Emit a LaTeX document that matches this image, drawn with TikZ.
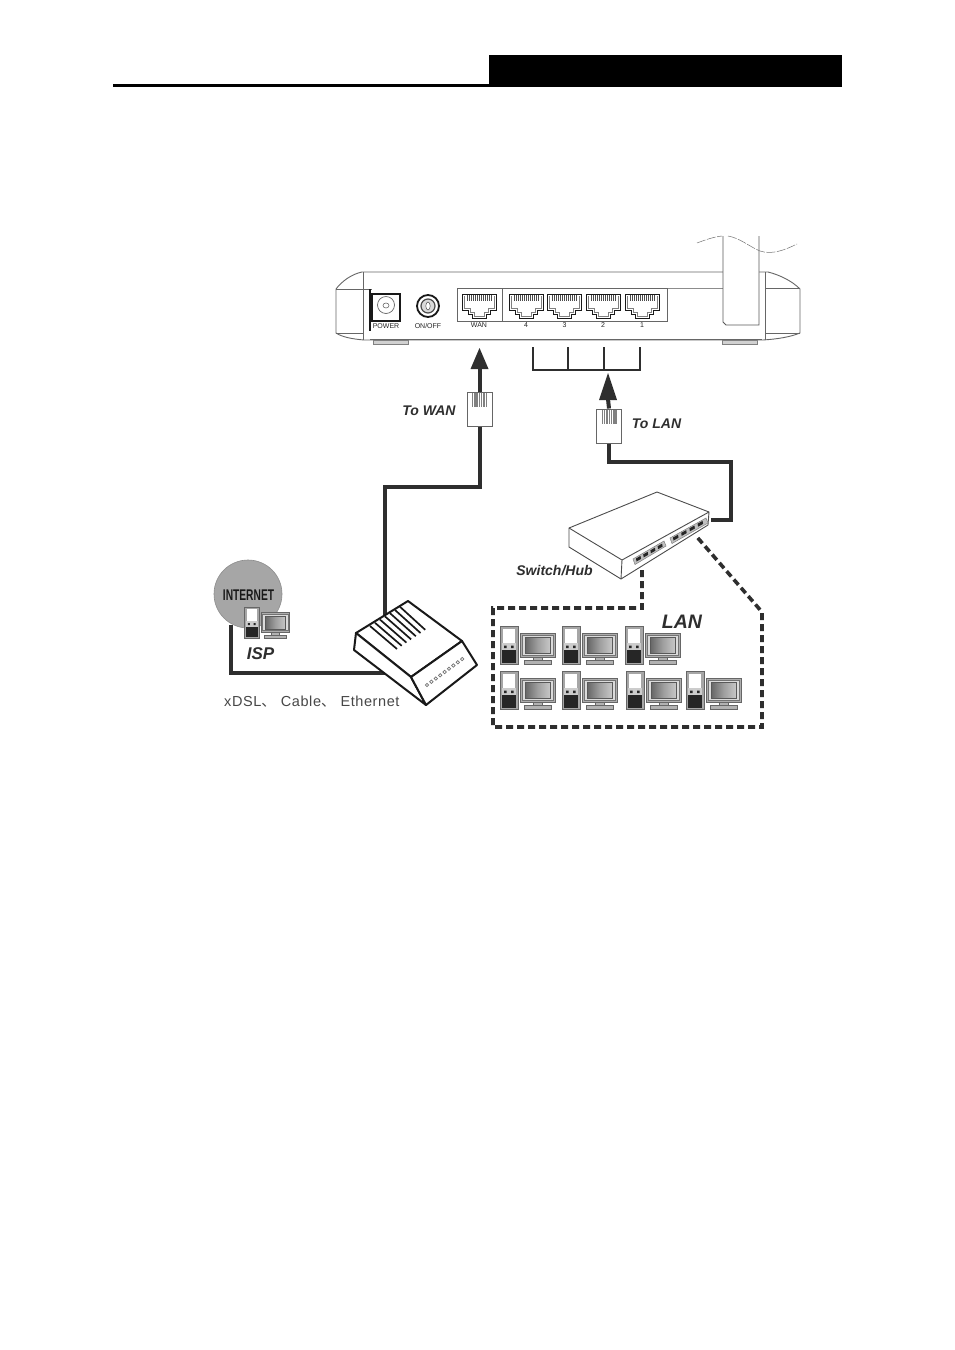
\documentclass[tikz,border=0pt]{standalone}
\usepackage{fontspec}
\setmainfont{Liberation Sans}
\newfontfamily\cjkf{Noto Sans CJK SC}
\newfontfamily\spacedf[LetterSpace=4]{Liberation Sans}
\usetikzlibrary{arrows.meta}
\definecolor{inkc}{gray}{0.18}
\tikzset{
  x=1pt,y=-1pt,
  cable/.style={line width=4pt,inkc,line join=miter},
  dashlan/.style={line width=3.6pt,inkc,dash pattern=on 7pt off 4pt},
  arrowhd/.style={fill=inkc,draw=none},
  plugbox/.style={draw=black!60,line width=1pt,fill=white,minimum width=25pt,minimum height=34pt,inner sep=0pt},
  lbl/.style={font=\bfseries\itshape\fontsize{14}{14}\selectfont,text=inkc,inner sep=0pt},
  ptxt/.style={font=\fontsize{7}{7}\selectfont,text=black!85,inner sep=0pt},
}
% computer: #1,#2 top-left; #3 scale
\newcommand{\pcunit}[3]{%
\begin{scope}[shift={(#1,#2)},scale=#3]
  \draw[black!60,line width=.8pt,fill=black!35] (0,0) rectangle (18,38);
  \fill[white] (3,3) rectangle (15,17);
  \fill[black!20] (2,17) rectangle (16,24);
  \fill[black!85] (4,19.5) rectangle (6.5,22) (11,19.5) rectangle (13.5,22);
  \fill[black!85] (2,24) rectangle (16,37);
  \draw[black!60,line width=.8pt,fill=black!32] (20,7) rectangle (55,31);
  \draw[black!55,line width=.6pt,fill=black!14] (22,9) rectangle (53,29);
  \shade[left color=black!60,right color=black!22,middle color=black!38,draw=black!65,line width=.6pt] (25,11) rectangle (50,27);
  \draw[black!60,line width=.7pt,fill=black!30] (33,31) rectangle (42,34);
  \draw[black!60,line width=.7pt,fill=black!30] (24,34) rectangle (51,38);
\end{scope}}
% RJ45 port centred at #1
\newcommand{\rjport}[1]{%
\begin{scope}[shift={(#1,0)}]
  \draw[black!90,line width=1pt] (-17,294) -- (17,294) -- (17,310) -- (11,310) -- (11,314) -- (7,314) -- (7,318) -- (-7,318) -- (-7,314) -- (-11,314) -- (-11,310) -- (-17,310) -- cycle;
  \draw[black!50,line width=.6pt] (-15,296) -- (-15,308) -- (-9,308) -- (-9,312) -- (-5,312) -- (-5,316) -- (5,316) -- (5,312) -- (9,312) -- (9,308) -- (15,308) -- (15,296);
  \foreach \k in {-12,-10,...,12} \draw[black!70,line width=.9pt] (\k,295) -- (\k,301);
\end{scope}}
\begin{document}
\begin{tikzpicture}
\useasboundingbox[fill=white] (0,0) rectangle (954,1350);
% header
\fill[black] (489,55) rectangle (842,87);
\fill[black] (113,84) rectangle (489,87);

% ---------- router
\draw[black!60,line width=.9pt,fill=white] (336,289) .. controls (342,281) and (352,274) .. (362,272) -- (768,272) .. controls (780,275) and (792,281) .. (800,289) -- (800,333) .. controls (790,337) and (778,339) .. (763,340) -- (364,340) .. controls (352,339) and (342,337) .. (336,333) -- cycle;
\draw[black!60,line width=.8pt] (363,272) -- (363,340) (765,272) -- (765,340) (336,289) -- (372,289) (336,333) -- (363,333) (765,333) -- (800,333) (765,288) -- (800,288);
\draw[black!45,line width=.7pt] (667,288) -- (723,288);
\draw[black!60,line width=.7pt] (370,339) -- (762,339);
\draw[black!90,line width=1.2pt] (370,289) -- (370,331);
% feet
\draw[black!50,line width=.6pt,fill=black!18] (373,340) rectangle (408,344);
\draw[black!50,line width=.6pt,fill=black!18] (722,340) rectangle (757,344);
% power
\draw[black!90,line width=1.2pt] (372,294) rectangle (400,321);
\draw[black!60,line width=.7pt] (386,305) circle (8.5);
\draw[black!60,line width=.6pt] (386,305.5) ellipse (3 and 2.5);
\node[ptxt] (powlbl) at (386,326) {POWER};
% on/off
\draw[black!90,line width=1.8pt] (428,306) circle (11);
\draw[black!70,line width=1.2pt,fill=black!15] (428,306) circle (7);
\fill[white] (428,306) ellipse (2.2 and 4);
\draw[black!70,line width=.5pt] (428,306) ellipse (2.2 and 4);
\node[ptxt] (onofflbl) at (428,326) {ON/OFF};
% panels
\draw[black!60,line width=.8pt] (457,288) rectangle (502,321);
\draw[black!60,line width=.8pt] (502,288) -- (667,288) -- (667,321) -- (502,321);
\rjport{479}\rjport{526}\rjport{564.5}\rjport{603}\rjport{642}
\node[ptxt] (wanlbl) at (479,325.5) {WAN};
\node[ptxt] (p4) at (526,325.5) {4};
\node[ptxt] (p3) at (564.5,325.5) {3};
\node[ptxt] (p2) at (603,325.5) {2};
\node[ptxt] (p1) at (642,325.5) {1};
% antenna
\draw[black!65,line width=.9pt,fill=white] (723,235) -- (723,322) -- (726,325) -- (759,325) -- (759,235);
\fill[white] (722,232) rectangle (760,236);
\draw[black!55,line width=.5pt,dash pattern=on 9pt off 1.5pt] (697,243) .. controls (705,240) and (713,237) .. (722,236);
\draw[black!55,line width=.5pt,dash pattern=on 9pt off 1.5pt] (728,236) .. controls (740,238) and (750,247) .. (760,251) .. controls (772,255) and (785,250) .. (797,244);

% ---------- bracket
\coordinate (b1) at (533,347); \coordinate (b2) at (568,347);
\coordinate (b3) at (604,347); \coordinate (b4) at (640,347);
\coordinate (bm) at (608,370);
\draw[inkc,line width=2.2pt,line join=miter] (b1) |- (b4 |- bm) -- (b4);
\draw[inkc,line width=2.2pt] (b2) -- (b2 |- bm) (b3) -- (b3 |- bm);

% ---------- WAN cable
\node[plugbox] (wanplug) at (479.5,409) {};
\coordinate (wantip) at (479.5,348);
\coordinate (wanbase) at (479.5,369);
\coordinate (m1) at (385,487);
\node[inner sep=0,minimum size=0] (modemtop) at (385,616) {};
\draw[cable] (wanplug.south) |- (m1) -- (modemtop);
\draw[cable] (wanplug.north) -- (wanbase);
\fill[arrowhd] (wantip) -- (488.5,369) -- (470.5,369) -- cycle;
\foreach \k in {-7,-4.7,...,7.1} \draw[black!50,line width=1.4pt] (479.5+\k,393) -- (479.5+\k,407);

% ---------- LAN cable
\node[plugbox] (lanplug) at (609,426) {};
\coordinate (lantip) at (608,373);
\coordinate (lanbase) at (608,399);
\coordinate (s1) at (731,462);
\coordinate (s2) at (711,520);
\draw[cable] (lanplug.south) |- (s1) |- (s2);
\draw[cable] (lanplug.north) -- (lanbase);
\fill[arrowhd] (lantip) -- (617,400) -- (599,400) -- cycle;
\foreach \k in {-7,-4.7,...,7.1} \draw[black!50,line width=1.4pt] (609.3+\k,410) -- (609.3+\k,424);

% ---------- dashed LAN
\coordinate (d0) at (642,570); \coordinate (d1) at (642,608);
\coordinate (d2) at (493,608); \coordinate (d3) at (493,727);
\coordinate (d4) at (762,727); \coordinate (d5) at (762,612);
\coordinate (d6) at (697,537);
\draw[dashlan] (d0) -- (d1) -- (d2) -- (d3) -- (d4) -- (d5) -- (d6);

% ---------- switch
\draw[black!70,line width=.9pt,fill=white,line join=round] (569,528) -- (657,492) -- (709,512) -- (708,525) -- (621,579) -- (569,547) -- cycle;
\draw[black!70,line width=.9pt] (569,528) -- (622,560) -- (709,512) (622,560) -- (621,579);
\draw[black!50,line width=.5pt,fill=black!25] (633,559) -- (664,541) -- (666,546) -- (635,564.5) -- cycle;
\draw[black!50,line width=.5pt,fill=black!25] (670,538) -- (706,518) -- (708,523) -- (672,543.5) -- cycle;
\foreach \t in {0,1,2,3} \fill[black!85,shift={({636+\t*7.2},{558.5-\t*4.1})}] (0,0) -- (4.5,-2.6) -- (5,.4) -- (.5,3) -- cycle;
\foreach \t in {0,1,2,3} \fill[black!85,shift={({673+\t*8.2},{537.5-\t*4.6})}] (0,0) -- (5,-2.8) -- (5.5,.2) -- (.5,3) -- cycle;

% ---------- computers
\pcunit{500}{626}{1}\pcunit{562}{626}{1}\pcunit{625}{626}{1}
\pcunit{500}{671}{1}\pcunit{562}{671}{1}\pcunit{626}{671}{1}\pcunit{686}{671}{1}

% ---------- ISP
\node[inner sep=0,minimum size=0] (modemleft) at (385,673) {};
\coordinate (i1) at (231,673);
\coordinate (i2) at (231,625);
\draw[cable] (modemleft) -- (i1) -- (i2);
\node[circle,fill=black!35,draw=black!45,line width=.6pt,minimum size=68pt,inner sep=0] (globe) at (248,594) {};
\node[inner sep=0,text=black!90] (inettxt) at (248.5,595.5) {\fontsize{15.5}{15.5}\selectfont\scalebox{.66}[1]{\bfseries INTERNET}};
\pcunit{244.5}{607}{.82}
\node[lbl,font=\bfseries\itshape\fontsize{17}{17}\selectfont] (isp) at (260.5,653.5) {ISP};

% ---------- modem
\draw[black!90,line width=2pt,fill=white,line join=round] (356,633) -- (408,601) -- (462,641) -- (411,677) -- cycle;
\draw[black!90,line width=2pt,fill=white,line join=round] (356,633) -- (354,650) -- (426,705) -- (411,677) -- cycle;
\draw[black!90,line width=2pt,fill=white,line join=round] (411,677) -- (462,641) -- (477,665) -- (426,705) -- cycle;
\foreach \t in {0,...,6} \draw[black!90,line width=1.7pt] ({370+\t*5},{626-\t*3.2}) -- ({397+\t*4.7},{649-\t*3.2});
\foreach \t in {0,...,8} \draw[black!55,line width=.7pt] ({427+\t*4.4},{685-\t*3.25}) circle (1.7);

% ---------- labels
\node[lbl] (towan) at (429,410.5) {To WAN};
\node[lbl] (tolan) at (656.5,424) {To LAN};
\node[lbl] (sw) at (554.5,571) {Switch/Hub};
\node[lbl,font=\bfseries\itshape\fontsize{19.5}{19.5}\selectfont] (lan) at (682,621.5) {LAN};
\node[inner sep=0,text=black!72,anchor=west] (xd) at (224,702) {\fontsize{14.5}{14.5}\selectfont\spacedf xDSL{\cjkf 、}\hspace{5pt}Cable{\cjkf 、}\hspace{5pt}Ethernet};
\end{tikzpicture}
\end{document}
